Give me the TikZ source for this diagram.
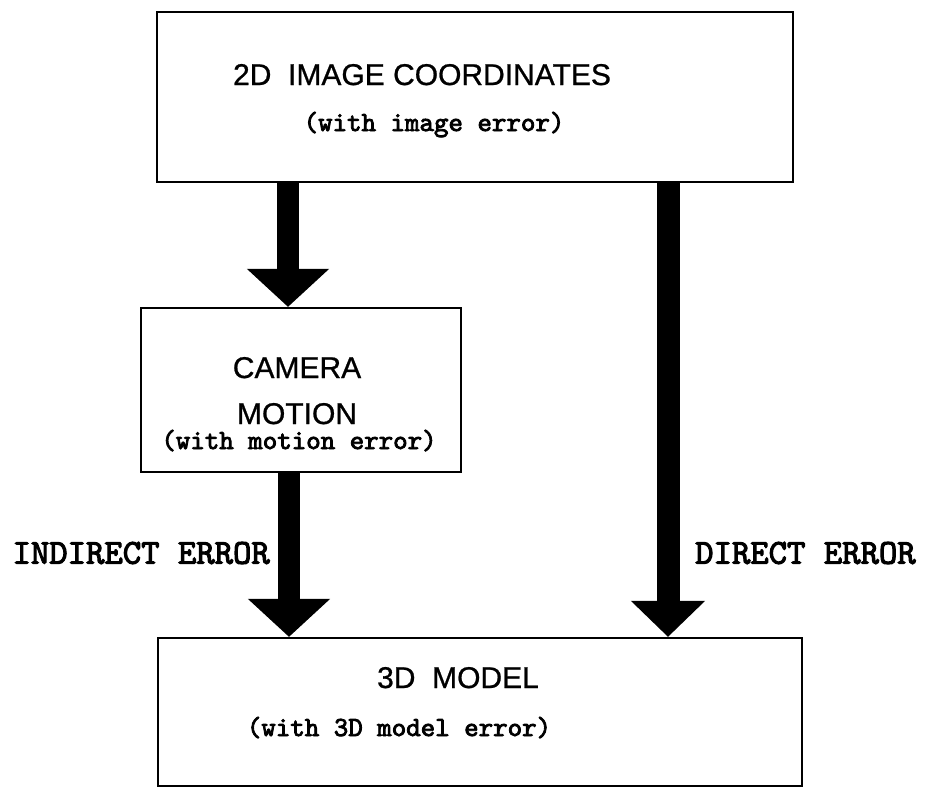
\documentclass[tikz,border=0pt]{standalone}
\usepackage{fontspec}
\usetikzlibrary{arrows.meta}
\newfontfamily\boxfont[FakeBold=0.8]{Liberation Sans}
\newfontfamily\codefont[FakeBold=3]{lmmono10-regular.otf}

\begin{document}
\begin{tikzpicture}[x=1pt, y=-1pt,
    errbox/.style={draw, line width=2.2pt, inner sep=0pt},
    title/.style={font=\boxfont\fontsize{30}{32}\selectfont, anchor=base, inner sep=0pt},
    subtitle/.style={font=\codefont\fontsize{27.6}{29}\selectfont, anchor=base, inner sep=0pt},
    errlabel/.style={font=\codefont\fontsize{35}{37}\selectfont, inner sep=0pt},
    fatarrow/.style={line width=22pt, -{Triangle[length=38pt, width=80pt]}}]
\useasboundingbox (0,0) rectangle (931,787);

    % the three boxes
    \node[errbox, minimum width=636pt, minimum height=170pt] (image) at (475,97) {};
    \node[title] (image-title) at (422,85) {2D\ \ IMAGE COORDINATES};
    \node[subtitle] (image-sub) at (434,131) {(with image error)};

    \node[errbox, minimum width=320pt, minimum height=164pt] (motion) at (301,390) {};
    \node[title] (motion-title1) at (297,378) {CAMERA};
    \node[title] (motion-title2) at (297,424) {MOTION};
    \node[subtitle] (motion-sub) at (299,449) {(with motion error)};

    \node[errbox, minimum width=644pt, minimum height=148pt] (model) at (480,712) {};
    \node[title] (model-title) at (458,688) {3D\ \ MODEL};
    \node[subtitle] (model-sub) at (399,736) {(with 3D model error)};

    % error paths
    \draw[fatarrow] ([xshift=-13pt]motion.north |- image.south) -- ([xshift=-13pt]motion.north);
    \draw[fatarrow] ([xshift=-12pt]motion.south) -- ([xshift=-12pt]motion.south |- model.north);
    \draw[fatarrow, line width=23pt, -{Triangle[length=36pt, width=72pt]}]
        ([xshift=193pt]image.south) -- ([xshift=193pt]image.south |- model.north);

    \node[errlabel, anchor=east] (indirect) at (270,553) {INDIRECT ERROR};
    \node[errlabel, anchor=west] (direct) at (695,553) {DIRECT ERROR};
\end{tikzpicture}
\end{document}
